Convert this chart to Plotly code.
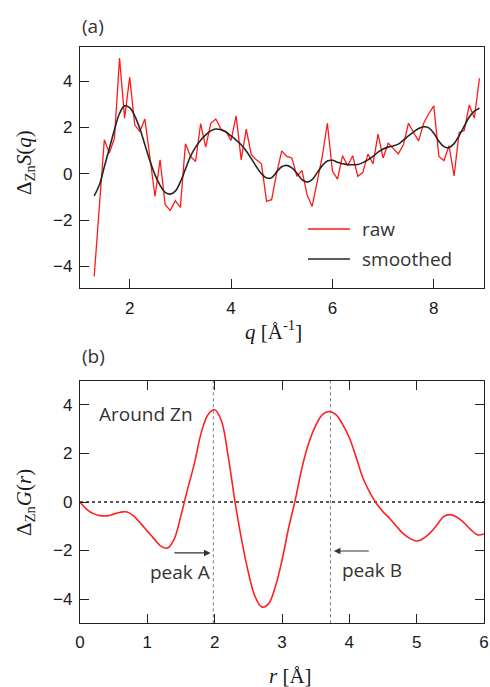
import plotly.graph_objects as go

# ---------- data ----------
q = [1.3, 1.4, 1.5, 1.6, 1.7, 1.8, 1.9, 2.0, 2.1, 2.2, 2.3, 2.4, 2.5, 2.6, 2.7, 2.8, 2.9,
     3.0, 3.1, 3.2, 3.3, 3.4, 3.5, 3.6, 3.7, 3.8, 3.9, 4.0, 4.1, 4.2, 4.3, 4.4, 4.5, 4.6,
     4.7, 4.8, 4.9, 5.0, 5.1, 5.2, 5.3, 5.4, 5.5, 5.6, 5.7, 5.8, 5.9, 6.0, 6.1, 6.2, 6.3,
     6.4, 6.5, 6.6, 6.7, 6.8, 6.9, 7.0, 7.1, 7.2, 7.3, 7.4, 7.5, 7.6, 7.7, 7.8, 7.9, 8.0,
     8.1, 8.2, 8.3, 8.4, 8.5, 8.6, 8.7, 8.8, 8.9]

s_raw = [-4.43, -1.3, 1.47, 0.89, 1.54, 4.99, 2.40, 4.17, 2.11, 1.82, 2.36, 0.7, -0.98,
         0.60, -1.34, -1.58, -1.16, -1.45, 1.29, 0.75, 0.53, 2.16, 1.15, 2.18, 2.36, 1.93,
         1.82, 1.44, 2.5, 0.60, 1.93, 0.82, 0.60, 0.43, -1.19, -1.12, 0.03, 0.99, 0.75,
         0.68, -0.11, 0.14, -0.91, -1.41, -0.40, 0.75, 2.18, 0.12, -0.23, 0.78, 0.34, 0.78,
         -0.11, 0.06, 0.85, 0.43, 1.71, 0.68, 1.32, 1.11, 0.86, 1.25, 2.18, 1.78, 1.42,
         2.18, 2.59, 2.93, 0.75, 0.57, 1.21, -0.09, 1.78, 1.87, 2.97, 2.40, 4.12]

s_smooth = [-0.95, -0.5, 0.3, 1.1, 1.9, 2.6, 2.93, 2.85, 2.5, 1.95, 1.25, 0.55, -0.05,
            -0.5, -0.8, -0.88, -0.75, -0.35, 0.2, 0.75, 1.15, 1.45, 1.68, 1.85, 1.93, 1.9,
            1.8, 1.63, 1.45, 1.25, 0.98, 0.65, 0.3, 0.0, -0.18, -0.17, 0.08, 0.3, 0.36,
            0.25, 0.02, -0.25, -0.36, -0.25, 0.05, 0.35, 0.55, 0.58, 0.5, 0.43, 0.4, 0.39,
            0.4, 0.48, 0.6, 0.75, 0.93, 1.07, 1.15, 1.2, 1.28, 1.45, 1.63, 1.8, 1.95, 2.03,
            1.98, 1.75, 1.4, 1.17, 1.13, 1.3, 1.65, 2.05, 2.45, 2.7, 2.83]

r = [0.0, 0.1, 0.2, 0.3, 0.4, 0.5, 0.6, 0.7, 0.8, 0.9, 1.0, 1.1, 1.2, 1.3, 1.4, 1.5, 1.6,
     1.7, 1.8, 1.9, 2.0, 2.1, 2.2, 2.3, 2.4, 2.5, 2.6, 2.7, 2.8, 2.9, 3.0, 3.1, 3.2, 3.3,
     3.4, 3.5, 3.6, 3.7, 3.8, 3.9, 4.0, 4.1, 4.2, 4.3, 4.4, 4.5, 4.6, 4.7, 4.8, 4.9, 5.0,
     5.1, 5.2, 5.3, 5.4, 5.5, 5.6, 5.7, 5.8, 5.9, 6.0]

g_r = [0.0, -0.3, -0.48, -0.56, -0.57, -0.5, -0.42, -0.41, -0.58, -0.88, -1.2, -1.52,
       -1.82, -1.9, -1.52, -0.55, 0.55, 1.6, 2.85, 3.6, 3.8, 3.35, 1.9, 0.05, -1.55, -2.9,
       -3.9, -4.33, -4.2, -3.5, -2.4, -1.05, 0.13, 1.45, 2.45, 3.15, 3.6, 3.73, 3.6, 3.2,
       2.65, 1.85, 1.0, 0.42, -0.05, -0.4, -0.68, -1.0, -1.3, -1.5, -1.61, -1.5, -1.27,
       -0.95, -0.6, -0.52, -0.63, -0.85, -1.13, -1.35, -1.32]

peak_positions = [1.98, 3.72]
peak_labels = ["peak A", "peak B"]

q_ticks = [2, 4, 6, 8]
s_ticks = [-4, -2, 0, 2, 4]
r_ticks = [0, 1, 2, 3, 4, 5, 6]
g_ticks = [-4, -2, 0, 2, 4]

# ---------- figure ----------
W, H = 490, 687
def px(x):
    return x / W
def py(y):
    return 1 - y / H

SANS = "Open Sans"
TICKF = dict(family="Liberation Sans", size=17, color="#1a1a1a")
SERIF = "Liberation Serif"
AXC = "#222222"

fig = go.Figure()
fig.add_trace(go.Scatter(x=q, y=s_raw, mode="lines", name="raw",
                         line=dict(color="#ff1a1a", width=1.3), xaxis="x", yaxis="y"))
fig.add_trace(go.Scatter(x=q, y=s_smooth, mode="lines", name="smoothed",
                         line=dict(color="#262626", width=1.6, shape="spline"),
                         xaxis="x", yaxis="y"))
fig.add_trace(go.Scatter(x=r, y=g_r, mode="lines", name="G(r)",
                         line=dict(color="#ff2020", width=1.6, shape="spline"),
                         xaxis="x2", yaxis="y2"))

common = dict(showline=True, linecolor=AXC, linewidth=1.3, ticks="inside", ticklen=9,
              tickwidth=1.3, tickcolor=AXC, showgrid=False, zeroline=False,
              tickfont=TICKF, automargin=False)

xa_dom = [px(80), px(484)]
fig.update_layout(
    width=W, height=H,
    margin=dict(l=0, r=0, t=0, b=0),
    paper_bgcolor="white", plot_bgcolor="white",
    showlegend=False,
    xaxis=dict(domain=xa_dom, range=[1.02, 8.99], tickvals=q_ticks, anchor="y",
               mirror=True, ticklabelstandoff=4, **common),
    yaxis=dict(domain=[py(288), py(47)], range=[-4.93, 5.47], tickvals=s_ticks,
               ticktext=["\u22124", "\u22122", "0", "2", "4"], anchor="x",
               mirror=True, ticklabelstandoff=3, **common),
    xaxis2=dict(domain=xa_dom, range=[0, 6], tickvals=r_ticks, anchor="y2",
                mirror="ticks", ticklabelstandoff=3, **common),
    yaxis2=dict(domain=[py(623.3), py(380.7)], range=[-5, 5], tickvals=g_ticks,
                ticktext=["\u22124", "\u22122", "0", "2", "4"], anchor="x2",
                mirror="ticks", ticklabelstandoff=3, **common),
)

shapes = []
# zero line in (b)
shapes.append(dict(type="line", xref="x2 domain", yref="y2", x0=0, x1=1, y0=0, y1=0,
                   line=dict(color="#222", width=1.5, dash="dot"), layer="below"))
# peak position lines
for p in peak_positions:
    shapes.append(dict(type="line", xref="x2", yref="y2 domain", x0=p, x1=p, y0=0, y1=1,
                       line=dict(color="#777", width=1, dash="dot"), layer="below"))
# legend samples in (a)
shapes.append(dict(type="line", xref="paper", yref="paper", x0=px(308), x1=px(350),
                   y0=py(229), y1=py(229), line=dict(color="#ff1a1a", width=1.5)))
shapes.append(dict(type="line", xref="paper", yref="paper", x0=px(308), x1=px(350),
                   y0=py(259), y1=py(259), line=dict(color="#262626", width=1.6)))
fig.update_layout(shapes=shapes)

LBL = dict(family=SANS, size=19, color="#333")
ann = []
ann.append(dict(text="raw", xref="paper", yref="paper", x=px(360), y=py(229),
                xanchor="left", yanchor="middle", showarrow=False, font=LBL))
ann.append(dict(text="smoothed", xref="paper", yref="paper", x=px(360), y=py(259),
                xanchor="left", yanchor="middle", showarrow=False, font=LBL))
ann.append(dict(text="(a)", xref="paper", yref="paper", x=px(80), y=py(26),
                xanchor="left", yanchor="middle", showarrow=False, font=LBL))
ann.append(dict(text="(b)", xref="paper", yref="paper", x=px(80), y=py(356),
                xanchor="left", yanchor="middle", showarrow=False, font=LBL))
ann.append(dict(text="Around Zn", xref="x2", yref="y2", x=0.25, y=3.62,
                xanchor="left", yanchor="middle", showarrow=False, font=LBL))
# arrows
ann.append(dict(text="", xref="x2", yref="y2", x=1.94, y=-2.1, axref="x2", ayref="y2",
                ax=1.38, ay=-2.1, showarrow=True, arrowhead=2, arrowsize=1.1,
                arrowwidth=1.2, arrowcolor="#333"))
ann.append(dict(text="", xref="x2", yref="y2", x=3.77, y=-2.02, axref="x2", ayref="y2",
                ax=4.31, ay=-2.02, showarrow=True, arrowhead=2, arrowsize=1.1,
                arrowwidth=1.2, arrowcolor="#333"))
ann.append(dict(text=peak_labels[0], xref="x2", yref="y2", x=1.48, y=-2.87,
                xanchor="center", yanchor="middle", showarrow=False, font=LBL))
ann.append(dict(text=peak_labels[1], xref="x2", yref="y2", x=4.34, y=-2.8,
                xanchor="center", yanchor="middle", showarrow=False, font=LBL))
# axis titles
TF = dict(family=SERIF, size=21, color="#1a1a1a")
ann.append(dict(text="\u0394<sub>Zn</sub><i>S</i>(<i>q</i>)", xref="paper", yref="paper",
                x=px(25), y=py(163), textangle=-90, xanchor="center", yanchor="middle",
                showarrow=False, font=TF))
ann.append(dict(text="\u0394<sub>Zn</sub><i>G</i>(<i>r</i>)", xref="paper", yref="paper",
                x=px(25), y=py(503), textangle=-90, xanchor="center", yanchor="middle",
                showarrow=False, font=TF))
ann.append(dict(text="<i>q</i> [\u00c5<sup>-1</sup>]", xref="paper", yref="paper",
                x=px(273), y=py(330), xanchor="center", yanchor="middle",
                showarrow=False, font=TF))
ann.append(dict(text="<i>r</i> [\u00c5]", xref="paper", yref="paper",
                x=px(290), y=py(676), xanchor="center", yanchor="middle",
                showarrow=False, font=TF))
fig.update_layout(annotations=ann)

fig.write_html("out.html", config={"displayModeBar": False},
               post_script="document.body.style.margin='0px';"
                           "document.body.style.overflow='hidden';")
